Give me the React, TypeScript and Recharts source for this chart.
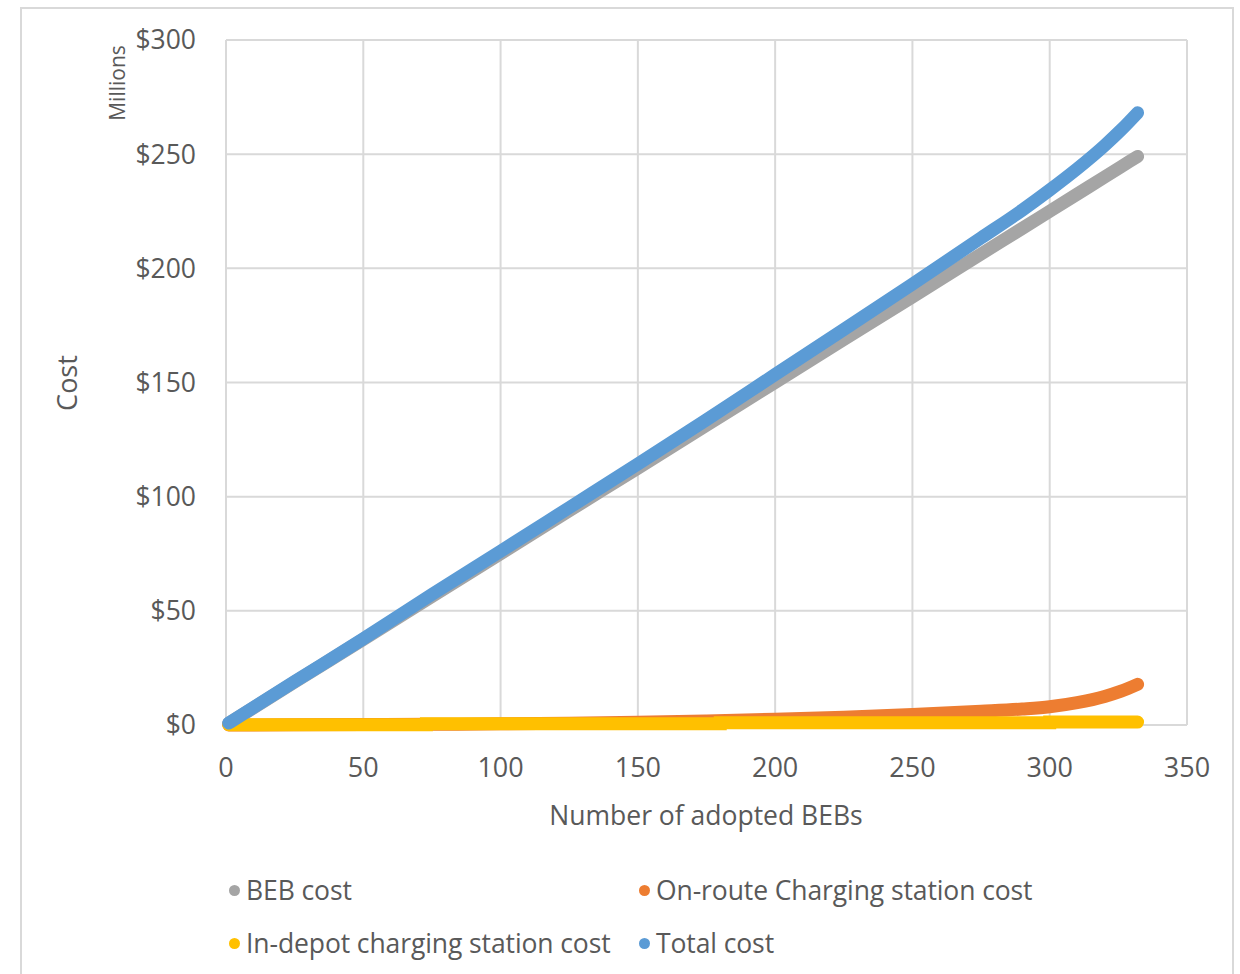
import React from 'react';
import { LineChart, Line, XAxis, YAxis, CartesianGrid } from 'recharts';

// cost in $ millions by number of adopted BEBs
const busCounts = [1, 25, 50, 75, 100, 125, 150, 175, 200, 225, 250, 275, 290, 300, 310, 320, 326, 332];
const bebCost = [0.75, 18.8, 37.5, 56.3, 75, 93.8, 112.5, 131.3, 150, 168.8, 187.5, 206.3, 217.5, 225, 232.5, 240, 244.5, 249];
const onRouteCost = [0, 0.1, 0.2, 0.3, 0.5, 0.8, 1.2, 1.8, 2.5, 3.4, 4.6, 6.0, 7.0, 8.0, 9.8, 12.5, 14.8, 17.8];
const totalCost = [0.85, 19.0, 37.8, 57.2, 76.1, 95.2, 114.3, 133.7, 153.5, 173.2, 193.1, 213.3, 225.5, 234.3, 243.6, 253.8, 260.6, 268.1];

// in-depot cost only changes at a few fleet sizes
const depotSteps = [1, 73, 180, 300, 332];
const depotCost = [0.1, 0.6, 1.0, 1.3, 1.3];

const xTicks = [0, 50, 100, 150, 200, 250, 300, 350];
const yTicks = [0, 50, 100, 150, 200, 250, 300];

const series = [
  { name: 'BEB cost', color: '#A5A5A5' },
  { name: 'On-route Charging station cost', color: '#ED7D31' },
  { name: 'In-depot charging station cost', color: '#FFC000' },
  { name: 'Total cost', color: '#5B9BD5' },
];

const toRows = (xs: number[], ys: number[]) => xs.map((x, i) => ({ x, y: ys[i] }));

const bebRows = toRows(busCounts, bebCost);
const onRouteRows = toRows(busCounts, onRouteCost);
const depotRows = toRows(depotSteps, depotCost);
const totalRows = toRows(busCounts, totalCost);

const TEXT = '#595959';
const GRID = '#d9d9d9';
const FONT = '"Open Sans", sans-serif';

const LegendItem = ({ color, name, left, top }: { color: string; name: string; left: number; top: number }) => (
  <div style={{ position: 'absolute', left, top, display: 'flex', alignItems: 'center', height: 30 }}>
    <span style={{ width: 11, height: 11, borderRadius: '50%', background: color, display: 'inline-block', marginRight: 6 }} />
    <span style={{ fontSize: 26.5, color: TEXT, whiteSpace: 'nowrap', letterSpacing: -0.1 }}>{name}</span>
  </div>
);

export default function App() {
  const lineProps = {
    type: 'monotone' as const,
    dataKey: 'y',
    strokeWidth: 13,
    strokeLinecap: 'round' as const,
    dot: false,
    activeDot: false,
    isAnimationActive: false,
  };

  return (
    <div style={{ position: 'absolute', left: 0, top: 0, width: 1240, height: 974, overflow: 'hidden', background: '#fff', fontFamily: FONT }}>
      <div style={{ position: 'absolute', left: 20, top: 7, width: 1214, height: 980, border: `2px solid ${GRID}`, boxSizing: 'border-box' }} />

      <div style={{ position: 'absolute', left: 0, top: 0 }}>
        <LineChart width={1240} height={974} margin={{ top: 40, right: 53, bottom: 189, left: 0 }}>
          {/* the grid's outer lines double as the axis lines, kept underneath the series */}
          <CartesianGrid stroke={GRID} strokeWidth={2} />
          <XAxis
            type="number"
            dataKey="x"
            domain={[0, 350]}
            ticks={xTicks}
            height={60}
            axisLine={false}
            tickLine={false}
            tickSize={0}
            tickMargin={33}
            tick={{ fill: TEXT, fontSize: 27, fontFamily: FONT }}
            allowDuplicatedCategory={false}
          />
          <YAxis
            type="number"
            domain={[0, 300]}
            ticks={yTicks}
            width={226}
            axisLine={false}
            tickLine={false}
            tickSize={0}
            tickMargin={30}
            tickFormatter={(v: number) => `$${v}`}
            tick={{ fill: TEXT, fontSize: 26.5, fontFamily: FONT }}
          />
          <Line {...lineProps} data={bebRows} name={series[0].name} stroke={series[0].color} />
          <Line {...lineProps} data={onRouteRows} name={series[1].name} stroke={series[1].color} />
          <Line {...lineProps} type="stepAfter" data={depotRows} name={series[2].name} stroke={series[2].color} />
          <Line {...lineProps} data={totalRows} name={series[3].name} stroke={series[3].color} />
        </LineChart>
      </div>

      {/* axis titles */}
      <div style={{ position: 'absolute', left: 66, top: 383, transform: 'translate(-50%, -50%) rotate(-90deg)', fontSize: 27, color: TEXT }}>
        Cost
      </div>
      <div style={{ position: 'absolute', left: 117, top: 83, transform: 'translate(-50%, -50%) rotate(-90deg)', fontSize: 21, color: TEXT }}>
        Millions
      </div>
      <div style={{ position: 'absolute', left: 706, top: 815, transform: 'translate(-50%, -50%)', fontSize: 26.5, color: TEXT, whiteSpace: 'nowrap' }}>
        Number of adopted BEBs
      </div>

      <LegendItem color={series[0].color} name={series[0].name} left={229} top={875} />
      <LegendItem color={series[1].color} name={series[1].name} left={639} top={875} />
      <LegendItem color={series[2].color} name={series[2].name} left={229} top={928} />
      <LegendItem color={series[3].color} name={series[3].name} left={639} top={928} />
    </div>
  );
}
